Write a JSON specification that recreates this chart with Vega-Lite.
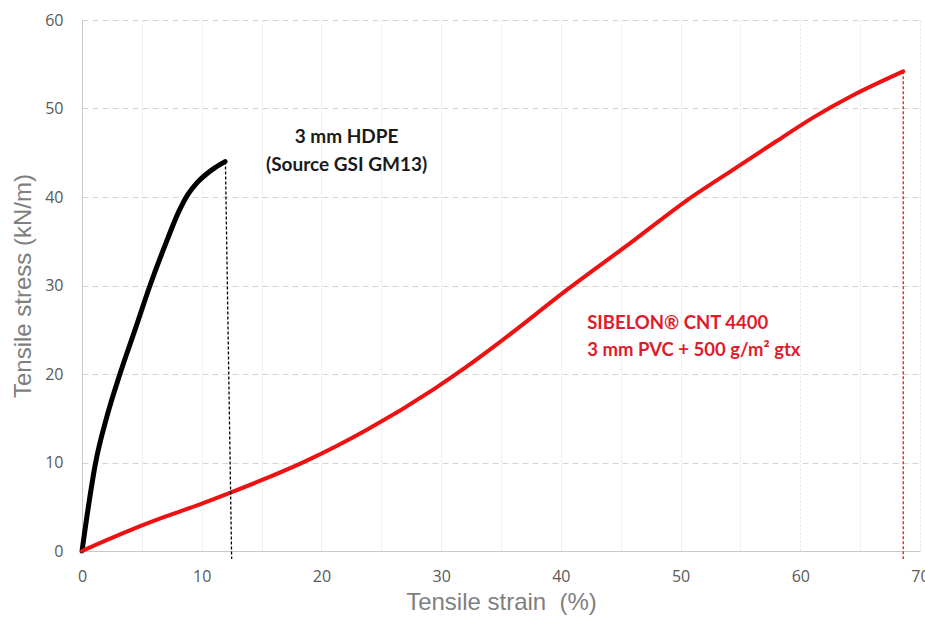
{
  "$schema": "https://vega.github.io/schema/vega-lite/v6.json",
  "autosize": {"type": "none"},
  "padding": {"left": 82, "top": 20, "right": 5, "bottom": 70},
  "width": 838,
  "height": 531,
  "background": "white",
  "config": {
    "view": {"stroke": null},
    "font": "Open Sans"
  },
  "datasets": {
    "curves": [
      {"series": "HDPE", "strain": 0, "stress": 0},
      {"series": "HDPE", "strain": 0.4, "stress": 3.8},
      {"series": "HDPE", "strain": 1.14, "stress": 10.0},
      {"series": "HDPE", "strain": 2.06, "stress": 15.1},
      {"series": "HDPE", "strain": 3.17, "stress": 20.0},
      {"series": "HDPE", "strain": 4.43, "stress": 25.0},
      {"series": "HDPE", "strain": 5.68, "stress": 30.0},
      {"series": "HDPE", "strain": 7.1, "stress": 35.1},
      {"series": "HDPE", "strain": 8.1, "stress": 38.4},
      {"series": "HDPE", "strain": 8.85, "stress": 40.3},
      {"series": "HDPE", "strain": 9.6, "stress": 41.6},
      {"series": "HDPE", "strain": 10.4, "stress": 42.6},
      {"series": "HDPE", "strain": 11.15, "stress": 43.35},
      {"series": "HDPE", "strain": 11.95, "stress": 44.0},
      {"series": "PVC", "strain": 0, "stress": 0},
      {"series": "PVC", "strain": 2.0, "stress": 1.2},
      {"series": "PVC", "strain": 4.3, "stress": 2.5},
      {"series": "PVC", "strain": 7.0, "stress": 3.9},
      {"series": "PVC", "strain": 9.9, "stress": 5.3},
      {"series": "PVC", "strain": 12.4, "stress": 6.6},
      {"series": "PVC", "strain": 15.0, "stress": 8.0},
      {"series": "PVC", "strain": 18.6, "stress": 10.1},
      {"series": "PVC", "strain": 23.8, "stress": 13.7},
      {"series": "PVC", "strain": 29.4, "stress": 18.3},
      {"series": "PVC", "strain": 32.1, "stress": 20.8},
      {"series": "PVC", "strain": 34.9, "stress": 23.6},
      {"series": "PVC", "strain": 40.5, "stress": 29.5},
      {"series": "PVC", "strain": 46.1, "stress": 35.1},
      {"series": "PVC", "strain": 50.5, "stress": 39.6},
      {"series": "PVC", "strain": 54.4, "stress": 43.1},
      {"series": "PVC", "strain": 58.0, "stress": 46.3},
      {"series": "PVC", "strain": 61.1, "stress": 49.0},
      {"series": "PVC", "strain": 64.4, "stress": 51.5},
      {"series": "PVC", "strain": 68.6, "stress": 54.2}
    ],
    "drops": [
      {"series": "HDPE", "x": 11.98, "y": 44.0, "x2": 12.5, "y2": -0.9},
      {"series": "PVC", "x": 68.6, "y": 54.2, "x2": 68.6, "y2": -0.9}
    ],
    "labelsCenter": [
      {"series": "HDPE", "x": 22.1, "y": 46.8, "text": "3 mm HDPE"},
      {"series": "HDPE", "x": 22.1, "y": 43.6, "text": "(Source GSI GM13)"}
    ],
    "labelsLeft": [
      {"series": "PVC", "x": 42.2, "y": 25.8, "text": "SIBELON® CNT 4400"},
      {"series": "PVC", "x": 42.2, "y": 22.7, "text": "3 mm PVC + 500 g/m² gtx"}
    ]
  },
  "layer": [
    {
      "data": {"name": "curves"},
      "mark": {"type": "line", "interpolate": "monotone", "strokeCap": "round", "strokeJoin": "round"},
      "encoding": {
        "x": {
          "field": "strain", "type": "quantitative",
          "scale": {"domain": [0, 70], "nice": false, "zero": false},
          "axis": {
            "title": "Tensile strain \u00a0(%)",
            "values": [0, 5, 10, 15, 20, 25, 30, 35, 40, 45, 50, 55, 60, 65, 70],
            "labelExpr": "datum.value % 10 === 0 ? datum.label : ''",
            "grid": true, "gridColor": "#e3e3e3", "gridDash": [2, 2], "gridWidth": 1,
            "ticks": false, "domain": true, "domainColor": "#c8c8c8", "domainWidth": 1,
            "labelColor": "#595959", "labelFontSize": 16, "labelPadding": 17,
            "titleColor": "#7f7f7f", "titleFontSize": 24, "titleFont": "Liberation Sans", "titleFontWeight": "normal", "titlePadding": 6,
            "labelFlush": false, "labelOverlap": false
          }
        },
        "y": {
          "field": "stress", "type": "quantitative",
          "scale": {"domain": [0, 60], "nice": false},
          "axis": {
            "title": "Tensile stress (kN/m)",
            "values": [0, 10, 20, 30, 40, 50, 60],
            "grid": true, "gridColor": "#d4d4d4", "gridDash": [6, 4], "gridWidth": 1,
            "ticks": false, "domain": true, "domainColor": "#c8c8c8", "domainWidth": 1,
            "labelColor": "#595959", "labelFontSize": 16, "labelPadding": 19,
            "titleColor": "#7f7f7f", "titleFontSize": 24, "titleFont": "Liberation Sans", "titleFontWeight": "normal", "titlePadding": 9,
            "labelFlush": false
          }
        },
        "color": {
          "field": "series", "type": "nominal",
          "scale": {"domain": ["HDPE", "PVC"], "range": ["#000000", "#ee1111"]},
          "legend": null
        },
        "strokeWidth": {
          "field": "series", "type": "nominal",
          "scale": {"domain": ["HDPE", "PVC"], "range": [5, 4]},
          "legend": null
        }
      }
    },
    {
      "data": {"name": "drops"},
      "mark": {"type": "rule", "strokeWidth": 1.3, "strokeDash": [3, 2], "clip": false},
      "encoding": {
        "x": {"field": "x", "type": "quantitative"},
        "y": {"field": "y", "type": "quantitative"},
        "x2": {"field": "x2"},
        "y2": {"field": "y2"},
        "color": {"field": "series", "type": "nominal", "scale": {"domain": ["HDPE", "PVC"], "range": ["#000000", "#e8183c"]}, "legend": null}
      }
    },
    {
      "data": {"name": "labelsCenter"},
      "mark": {"type": "text", "font": "Lato", "fontWeight": "bold", "fontSize": 19, "baseline": "middle", "align": "center", "color": "#1a1a1a"},
      "encoding": {
        "x": {"field": "x", "type": "quantitative"},
        "y": {"field": "y", "type": "quantitative"},
        "text": {"field": "text"}
      }
    },
    {
      "data": {"name": "labelsLeft"},
      "mark": {"type": "text", "font": "Lato", "fontWeight": "bold", "fontSize": 18.5, "baseline": "middle", "align": "left", "color": "#e01b2d"},
      "encoding": {
        "x": {"field": "x", "type": "quantitative"},
        "y": {"field": "y", "type": "quantitative"},
        "text": {"field": "text"}
      }
    }
  ]
}
